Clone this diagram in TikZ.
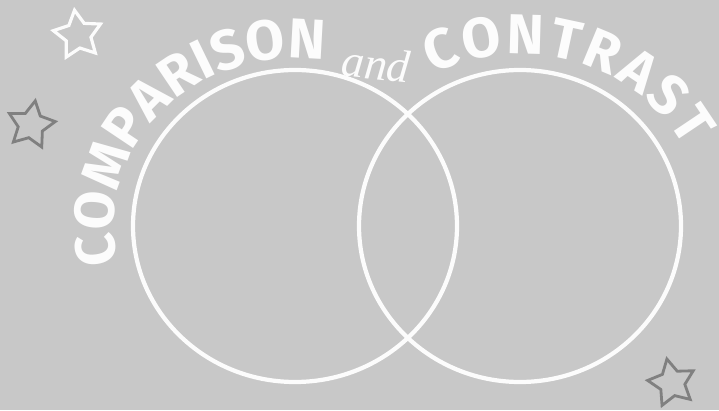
\documentclass[tikz,border=0pt]{standalone}
\usepackage{fontspec}
\setmainfont{Fira Sans}
\newfontfamily\handfont{Liberation Serif}
\usetikzlibrary{arrows.meta,positioning,shapes.geometric,decorations.text}
\definecolor{paper}{RGB}{200,200,200}
\definecolor{chalk}{RGB}{252,252,252}
\definecolor{pencil}{RGB}{128,128,128}

\begin{document}
\begin{tikzpicture}[font=\bfseries]
\useasboundingbox (0,0) rectangle (14.38,8.2);
\fill[paper] (0,0) rectangle (14.38,8.2);
\node[draw=chalk, line width=2.4pt, ellipse, minimum width=6.48cm, minimum height=6.24cm] (left) at (5.90,3.68) {};
\node[draw=chalk, line width=2.4pt, ellipse, minimum width=6.44cm, minimum height=6.24cm] (right) at (10.40,3.68) {};
\path[decorate, decoration={text along path, text color=chalk, text align={fit to path},
  text={|\bfseries\fontsize{32}{32}\selectfont|COMPARISON}}]
  (5.90,3.68) ++(193:3.62 and 3.36) arc[start angle=193, end angle=82, x radius=3.62cm, y radius=3.36cm];
\path[decorate, decoration={text along path, text color=chalk, text align={fit to path},
  text={|\bfseries\fontsize{32}{32}\selectfont|CONTRAST}}]
  (10.40,3.68) ++(118:3.70 and 3.44) arc[start angle=118, end angle=27, x radius=3.70cm, y radius=3.44cm];
\node[text=chalk, font=\handfont\itshape\fontsize{26}{26}\selectfont, rotate=-6] (and) at (7.52,6.92) {and};
\node[draw=chalk, line width=1.8pt, star, star points=5, star point ratio=1.9, minimum size=1.0cm, rotate=8] (s1) at (1.56,7.50) {};
\node[draw=pencil, line width=1.6pt, star, star points=5, star point ratio=1.9, minimum size=0.98cm, rotate=-10] (s2) at (0.62,5.70) {};
\node[draw=pencil, line width=1.6pt, star, star points=5, star point ratio=1.9, minimum size=0.98cm, rotate=12] (s3) at (13.44,0.54) {};
\end{tikzpicture}
\end{document}
